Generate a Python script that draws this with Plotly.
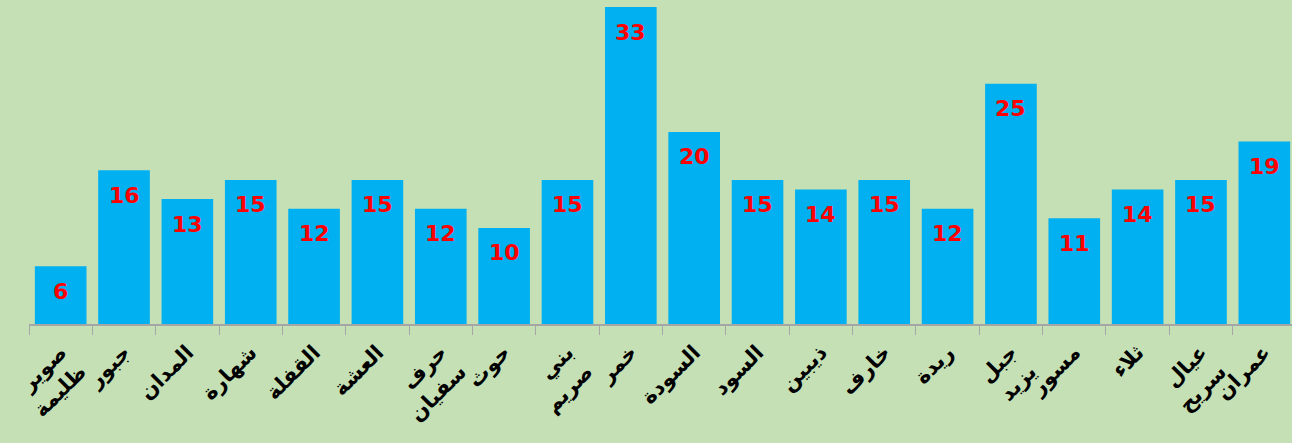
import plotly.graph_objects as go

categories = ["صوير<br>ظليمة", "جبور", "المدان", "شهارة", "القفلة", "العشة", "حرف<br>سفيان",
              "حوث", "بني<br>صريم", "خمر", "السودة", "السود", "ذيبين", "خارف", "ريدة",
              "جبل<br>يزيد", "مسور", "ثلاء", "عيال<br>سريح", "عمران"]
values = [6, 16, 13, 15, 12, 15, 12, 10, 15, 33, 20, 15, 14, 15, 12, 25, 11, 14, 15, 19]

fig = go.Figure()
fig.add_trace(go.Bar(
    x=categories, y=values,
    marker=dict(color="#00B0F0", line=dict(width=0)),
    hoverinfo="x+y",
))
for c, v in zip(categories, values):
    fig.add_annotation(
        x=c, y=v, text=f"<b>{v}</b>", showarrow=False,
        yshift=-25, font=dict(family="DejaVu Sans", size=22, color="#FF0000"),
    )

fig.update_layout(
    width=1296, height=443,
    margin=dict(l=29, r=0, t=7, b=119),
    paper_bgcolor="#C5E0B4", plot_bgcolor="#C5E0B4",
    bargap=0.185, showlegend=False,
    font=dict(family="DejaVu Sans"),
)
fig.update_xaxes(
    type="category", tickangle=-45, tickson="boundaries",
    ticks="outside", ticklen=9, tickcolor="#A6A6A6", tickwidth=1,
    showline=True, linecolor="#A6A6A6", linewidth=1.5,
    showgrid=False, ticklabelstandoff=6,
    tickfont=dict(family="DejaVu Sans", size=21, color="black", weight="bold"),
)
fig.update_yaxes(range=[0, 33], visible=False, showgrid=False)

fig.write_html("out.html", config={"displayModeBar": False},
               post_script="document.body.style.margin='0';document.body.style.overflow='hidden';")
